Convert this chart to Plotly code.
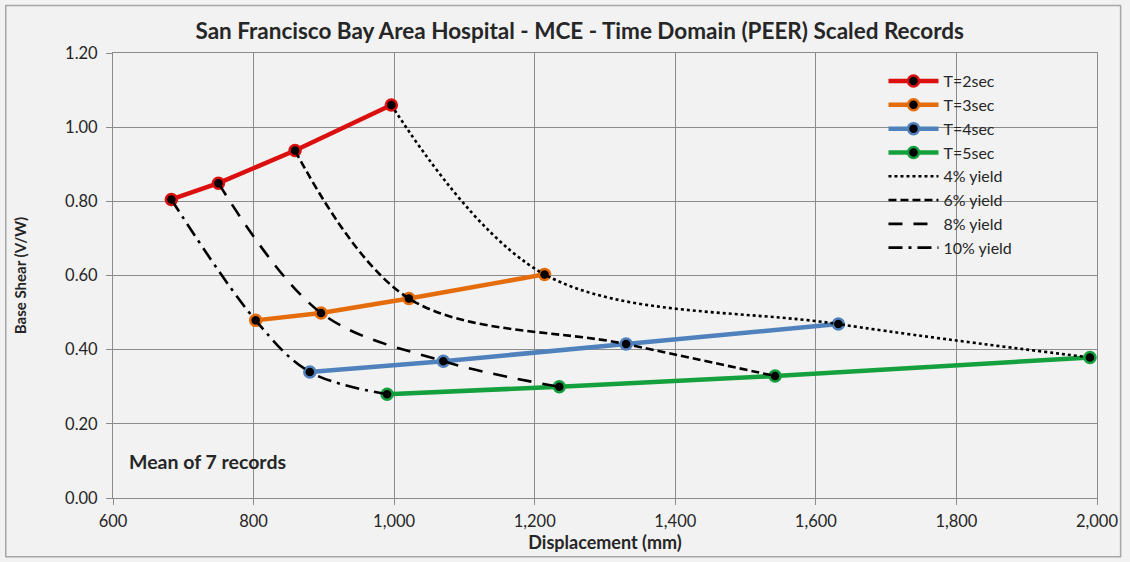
import plotly.graph_objects as go

# Mean response of 7 scaled records, displacement (mm) vs base shear (V/W)
x_t2 = [683, 750, 859, 996]
y_t2 = [0.805, 0.849, 0.937, 1.060]
x_t3 = [803, 896, 1021, 1214]
y_t3 = [0.479, 0.499, 0.538, 0.603]
x_t4 = [880, 1070, 1330, 1632]
y_t4 = [0.340, 0.369, 0.415, 0.469]
x_t5 = [990, 1235, 1542, 1990]
y_t5 = [0.280, 0.300, 0.329, 0.379]

period_names = ["T=2sec", "T=3sec", "T=4sec", "T=5sec"]
period_colors = ["#DC0F0F", "#E46C0A", "#4F81BD", "#14A03C"]

yield_names = ["4% yield", "6% yield", "8% yield", "10% yield"]
yield_dash = ["dot", "8px,4px", "14px,11px", "14px,6px,3px,6px"]

x_ticks = [600, 800, 1000, 1200, 1400, 1600, 1800, 2000]
x_tick_text = ["600", "800", "1,000", "1,200", "1,400", "1,600", "1,800", "2,000"]
y_ticks = [0.0, 0.2, 0.4, 0.6, 0.8, 1.0, 1.2]

series_x = [x_t2, x_t3, x_t4, x_t5]
series_y = [y_t2, y_t3, y_t4, y_t5]

FONT = "Lato, Open Sans, sans-serif"
TXT = "#262626"

fig = go.Figure()

for name, color, xs, ys in zip(period_names, period_colors, series_x, series_y):
    fig.add_trace(go.Scatter(
        x=xs, y=ys, name=name, mode="lines+markers",
        line=dict(color=color, width=4.5),
        marker=dict(color="black", size=11, line=dict(color=color, width=2.5)),
    ))

# Constant-yield curves join the k-th point of each period series
for k, (name, dash) in enumerate(zip(yield_names, yield_dash)):
    idx = 3 - k
    fig.add_trace(go.Scatter(
        x=[xs[idx] for xs in series_x], y=[ys[idx] for ys in series_y],
        name=name, mode="lines",
        line=dict(color="black", width=2.6, dash=dash, shape="spline", smoothing=1.0),
    ))

fig.update_layout(
    width=1130, height=562,
    margin=dict(l=113, r=27, t=53, b=64),
    paper_bgcolor="#F2F2F2", plot_bgcolor="#F2F2F2",
    font=dict(family=FONT, color=TXT, size=16),
    showlegend=True,
    title=dict(
        text="<b>San Francisco Bay Area Hospital - MCE - Time Domain (PEER) Scaled Records</b>",
        x=0.513, xanchor="center", xref="container", y=0.945, yanchor="middle",
        font=dict(size=22.5, family=FONT, color=TXT),
    ),
    legend=dict(
        x=0.783, y=0.975, xanchor="left", yanchor="top",
        bgcolor="rgba(0,0,0,0)", borderwidth=0,
        font=dict(size=16, family=FONT, color=TXT),
        tracegroupgap=0, itemwidth=50,
    ),
    xaxis=dict(
        range=[600, 2000], tickvals=x_ticks, ticktext=x_tick_text,
        showgrid=True, gridcolor="#8C8C8C", gridwidth=1,
        showline=True, linecolor="#8C8C8C", linewidth=1, mirror=True,
        ticks="outside", ticklen=6, tickcolor="#8C8C8C", ticklabelstandoff=2,
        zeroline=False, tickfont=dict(size=16.5, family=FONT, color=TXT),
        title=dict(text="<b>Displacement (mm)</b>",
                   font=dict(size=18, family=FONT, color=TXT), standoff=4),
    ),
    yaxis=dict(
        range=[0, 1.2], tickvals=y_ticks, tickformat=".2f",
        showgrid=True, gridcolor="#8C8C8C", gridwidth=1,
        showline=True, linecolor="#8C8C8C", linewidth=1, mirror=True,
        ticks="outside", ticklen=6, tickcolor="#8C8C8C", ticklabelstandoff=5,
        zeroline=False, tickfont=dict(size=16.5, family=FONT, color=TXT),
        title=dict(text="<b>Base Shear (V/W)</b>",
                   font=dict(size=15, family=FONT, color=TXT), standoff=34),
    ),
)

fig.add_annotation(
    text="<b>Mean of 7 records</b>", xref="paper", yref="paper",
    x=0.014, y=0.083, xanchor="left", yanchor="middle", showarrow=False,
    font=dict(size=19.5, family=FONT, color=TXT),
)

# Outer chart frame
fig.add_shape(type="rect", xref="paper", yref="paper",
              x0=-0.109, x1=1.024, y0=-0.132, y1=1.107,
              line=dict(color="#A6A6A6", width=1.5), fillcolor="rgba(0,0,0,0)", layer="below")

fig.write_html("out.html")
